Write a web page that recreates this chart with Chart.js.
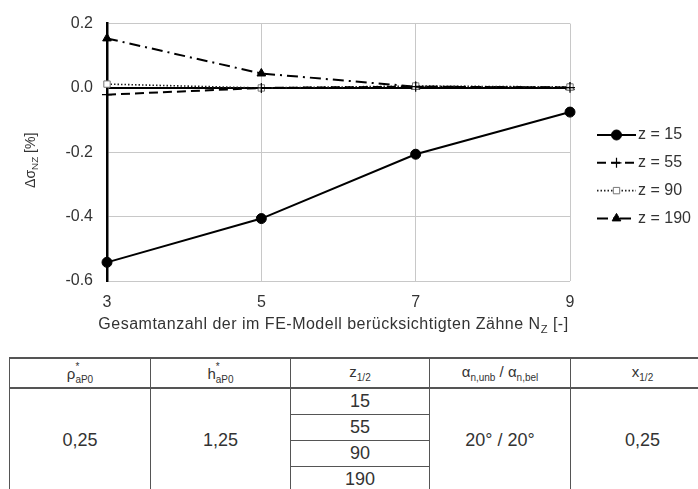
<!DOCTYPE html>
<html lang="de">
<head>
<meta charset="utf-8">
<script src="https://cdn.jsdelivr.net/npm/chart.js@4/dist/chart.umd.min.js"></script>
<style>
  html, body { margin: 0; padding: 0; background: #fff; width: 698px; height: 489px; overflow: hidden; }
  #wrap { position: absolute; left: 0; top: 0; width: 698px; height: 350px; }
  table.params {
    position: absolute; left: 9px; top: 357px;
    border-collapse: collapse; table-layout: fixed; width: 705px;
    font-family: "Liberation Sans", Arial, sans-serif; color: #333;
  }
  table.params td, table.params th {
    border: 1.5px solid #555; text-align: center; vertical-align: middle;
    padding: 0; font-weight: normal;
  }
  table.params tr.head th { height: 28px; font-size: 15px; border-top-width: 2px; border-bottom-width: 2px; }
  table.params tr.sub td { height: 25px; font-size: 18px; }
  table.params td.big { font-size: 18px; }
  table.params sub { font-size: 10px; }
  .sc { display: inline-block; position: relative; font-size: 10px; }
  .sc .up { position: absolute; left: 0; top: -9px; }
  .sc .dn { position: relative; top: 4px; }
</style>
</head>
<body>
<div id="wrap"><canvas id="c"></canvas></div>

<table class="params">
  <colgroup><col style="width:141px"><col style="width:140px"><col style="width:139px"><col style="width:141px"><col style="width:144px"></colgroup>
  <tr class="head">
    <th>ρ<span class="sc"><span class="up">*</span><span class="dn">aP0</span></span></th>
    <th>h<span class="sc"><span class="up">*</span><span class="dn">aP0</span></span></th>
    <th>z<sub>1/2</sub></th>
    <th>α<sub>n,unb</sub> / α<sub>n,bel</sub></th>
    <th>x<sub>1/2</sub></th>
  </tr>
  <tr class="sub">
    <td class="big" rowspan="4">0,25</td>
    <td class="big" rowspan="4">1,25</td>
    <td>15</td>
    <td class="big" rowspan="4">20° / 20°</td>
    <td class="big" rowspan="4">0,25</td>
  </tr>
  <tr class="sub"><td>55</td></tr>
  <tr class="sub"><td>90</td></tr>
  <tr class="sub"><td>190</td></tr>
</table>

<script>
// Number of teeth modelled in the FE model
const teethCounts = [3, 5, 7, 9];
// Deviation of the root stress [%] for each tooth number z
const devZ15  = [-0.542, -0.406, -0.206, -0.075];
const devZ55  = [-0.021,  0.000,  0.004,  0.001];
const devZ90  = [ 0.012,  0.000,  0.006,  0.003];
const devZ190 = [ 0.154,  0.045,  0.004,  0.002];
const seriesLabels = ['z = 15', 'z = 55', 'z = 90', 'z = 190'];
const yTicks = [0.2, 0.0, -0.2, -0.4, -0.6];

const FONT = '"Liberation Sans", Arial, sans-serif';
const TEXT = '#333';

const toPoints = vals => teethCounts.map((x, i) => ({ x, y: vals[i] }));

const datasets = [
  { label: seriesLabels[0], data: toPoints(devZ15), borderColor: '#000', borderWidth: 2,
    pointStyle: 'circle', pointRadius: 5, pointBackgroundColor: '#000', pointBorderColor: '#000', pointBorderWidth: 1 },
  { label: seriesLabels[1], data: toPoints(devZ55), borderColor: '#000', borderWidth: 2, borderDash: [9, 5],
    pointStyle: 'cross', pointRadius: 5, pointBackgroundColor: '#000', pointBorderColor: '#000', pointBorderWidth: 1.2 },
  { label: seriesLabels[2], data: toPoints(devZ90), borderColor: '#222', borderWidth: 1.6, borderDash: [1.5, 2],
    pointStyle: 'rect', pointRadius: 4.5, pointBackgroundColor: '#fff', pointBorderColor: '#777', pointBorderWidth: 1 },
  { label: seriesLabels[3], data: toPoints(devZ190), borderColor: '#000', borderWidth: 2, borderDash: [11, 5, 2, 5],
    pointStyle: 'triangle', pointRadius: 5, pointBackgroundColor: '#000', pointBorderColor: '#000', pointBorderWidth: 1 }
].map(d => Object.assign({ fill: false, tension: 0, clip: false }, d));

// Axis titles with sub-scripted parts
function drawRich(ctx, parts, x, y, size, spacing) {
  ctx.letterSpacing = (spacing || 0) + 'px';
  let w = 0;
  parts.forEach(p => { ctx.font = (p.sub ? size * 0.7 : size) + 'px ' + FONT; w += ctx.measureText(p.t).width; });
  let cx = x - w / 2;
  parts.forEach(p => {
    const s = p.sub ? size * 0.7 : size;
    ctx.font = s + 'px ' + FONT;
    ctx.fillText(p.t, cx, y + (p.sub ? size * 0.3 : 0));
    cx += ctx.measureText(p.t).width;
  });
  ctx.letterSpacing = '0px';
}

const titlesAndLegend = {
  id: 'titlesAndLegend',
  afterDraw(chart) {
    const ctx = chart.ctx;
    const area = chart.chartArea;
    ctx.save();
    ctx.fillStyle = TEXT;
    ctx.textBaseline = 'middle';
    ctx.textAlign = 'left';
    // x title
    drawRich(ctx, [{ t: 'Gesamtanzahl der im FE-Modell berücksichtigten Zähne N' }, { t: 'Z', sub: true }, { t: ' [-]' }],
      (area.left + area.right) / 2 - 5, area.bottom + 44, 16, 0.5);
    // y title
    ctx.save();
    ctx.translate(31, (area.top + area.bottom) / 2 + 8);
    ctx.rotate(-Math.PI / 2);
    drawRich(ctx, [{ t: 'Δσ' }, { t: 'NZ', sub: true }, { t: ' [%]' }], 0, 0, 14, 0);
    ctx.restore();

    // legend: line sample with marker, then label
    chart.data.datasets.forEach((ds, i) => {
      const y = 135 + i * 27.8;
      const x0 = 597, x1 = 636;
      ctx.save();
      ctx.strokeStyle = ds.borderColor;
      ctx.lineWidth = ds.borderWidth;
      ctx.setLineDash(ds.borderDash || []);
      ctx.beginPath(); ctx.moveTo(x0, y); ctx.lineTo(x1, y); ctx.stroke();
      ctx.restore();
      ctx.save();
      ctx.fillStyle = ds.pointBackgroundColor;
      ctx.strokeStyle = ds.pointBorderColor;
      ctx.lineWidth = ds.pointBorderWidth;
      Chart.helpers.drawPoint(ctx, { pointStyle: ds.pointStyle, radius: ds.pointRadius, borderWidth: ds.pointBorderWidth, rotation: 0 },
        (x0 + x1) / 2, y);
      ctx.restore();
      ctx.fillStyle = TEXT;
      ctx.font = '16px ' + FONT;
      ctx.textAlign = 'left';
      ctx.fillText(ds.label, x1 + 2, y);
    });
    ctx.restore();
  }
};

new Chart(document.getElementById('c'), {
  type: 'line',
  data: { datasets },
  options: {
    responsive: true,
    maintainAspectRatio: false,
    animation: false,
    events: [],
    layout: { padding: { left: 0, top: 17, right: 128, bottom: 0 } },
    plugins: { legend: { display: false }, tooltip: { enabled: false } },
    scales: {
      x: {
        type: 'linear', min: 3, max: 9,
        afterFit: s => { s.height = 69; },
        afterBuildTicks: s => { s.ticks = teethCounts.map(v => ({ value: v })); },
        ticks: { color: TEXT, font: { family: FONT, size: 16 }, padding: 12, callback: v => String(v) },
        grid: { color: '#c8c8c8', lineWidth: 1, drawTicks: false },
        border: { display: false }
      },
      y: {
        type: 'linear', min: -0.6, max: 0.2,
        afterFit: s => { s.width = 107; },
        afterBuildTicks: s => { s.ticks = yTicks.map(v => ({ value: v })); },
        ticks: { color: TEXT, font: { family: FONT, size: 16 }, padding: 14, callback: v => Number(v).toFixed(1) },
        grid: {
          drawTicks: false,
          color: c => Math.abs(c.tick.value) < 1e-9 ? '#000' : '#c8c8c8',
          lineWidth: c => Math.abs(c.tick.value) < 1e-9 ? 2 : 1
        },
        border: { display: true, color: '#000', width: 2.5 }
      }
    }
  },
  plugins: [titlesAndLegend]
});
</script>
</body>
</html>
